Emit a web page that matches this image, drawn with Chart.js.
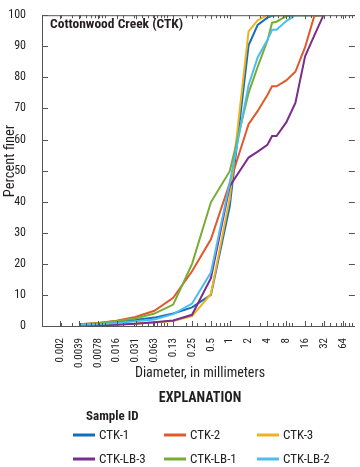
<!DOCTYPE html>
<html>
<head>
<meta charset="utf-8">
<script src="https://cdn.jsdelivr.net/npm/chart.js@4"></script>
<style>
html,body{margin:0;padding:0;background:#fff;}
#wrap{width:360px;height:467px;}
</style>
</head>
<body>
<div id="wrap"><canvas id="c" width="360" height="467"></canvas></div>
<script>
// ---- data ----
const sizes = [0.0039, 0.0078, 0.0156, 0.031, 0.0625, 0.125, 0.25, 0.5, 1, 2, 2.8, 4, 4.75, 5.6, 8, 11.2, 16, 22.4, 31.5];
const ctk1   = [0.5, 0.8, 1.3, 1.9, 2.7, 4.0, 6.0, 10.0, 38.5, 90.3, 96.9, 99.2, 99.8, 100, 100, 100, 100, 100, 100];
const ctk2   = [0.6, 1.0, 1.7, 2.9, 4.9, 9.1, 17.6, 27.9, 46.0, 64.9, 69.2, 74.3, 77.1, 77.1, 79.0, 81.8, 89.7, 99.7, 100];
const ctk3   = [0.2, 0.3, 0.5, 0.8, 1.1, 1.6, 3.2, 10.3, 41.0, 94.8, 98.4, 100, 100, 100, 100, 100, 100, 100, 100];
const ctkLB3 = [0.1, 0.2, 0.4, 0.7, 1.2, 1.8, 3.6, 15.4, 45.0, 54.2, 56.1, 58.3, 61.1, 61.1, 65.5, 71.8, 86.8, 93.4, 100];
const ctkLB1 = [0.6, 0.9, 1.6, 2.4, 4.0, 6.9, 20.0, 39.8, 49.8, 75.0, 83.4, 91.8, 97.6, 97.9, 99.7, 100, 100, 100, 100];
const ctkLB2 = [0.4, 0.6, 1.0, 1.5, 2.1, 3.8, 7.2, 17.2, 46.0, 77.5, 86.5, 92.0, 95.3, 95.3, 98.1, 100, 100, 100, 100];
const seriesNames = ['CTK-1', 'CTK-2', 'CTK-3', 'CTK-LB-3', 'CTK-LB-1', 'CTK-LB-2'];
const tickValues = [0.001953125, 0.00390625, 0.0078125, 0.015625, 0.03125, 0.0625, 0.125, 0.25, 0.5, 1, 2, 4, 8, 16, 32, 64];
const tickLabels = ['0.002', '0.0039', '0.0078', '0.016', '0.031', '0.063', '0.13', '0.25', '0.5', '1', '2', '4', '8', '16', '32', '64'];
const yTicks = [0, 10, 20, 30, 40, 50, 60, 70, 80, 90, 100];

const colors = ['#0f6fba', '#e0592a', '#eeb21f', '#7b2d8e', '#77ad32', '#4dbdee'];
const allSeries = [ctk1, ctk2, ctk3, ctkLB3, ctkLB1, ctkLB2];
const FONT = "'Roboto Condensed', 'Open Sans', sans-serif";
const AXC = '#555555';
const TXT = '#231f20';

const datasets = allSeries.map((arr, i) => ({
  label: seriesNames[i],
  data: sizes.map((s, j) => ({x: s, y: arr[j]})),
  borderColor: colors[i],
  backgroundColor: colors[i],
  borderWidth: 2,
  pointRadius: 0,
  tension: 0,
  fill: false,
  order: allSeries.length - i
}));

const decor = {
  id: 'decor',
  afterDraw(chart) {
    const ctx = chart.ctx;
    const a = chart.chartArea;
    const xs = chart.scales.x, ys = chart.scales.y;
    ctx.save();
    ctx.strokeStyle = AXC;
    ctx.lineWidth = 1;
    ctx.beginPath();
    ctx.moveTo(a.left, a.top + 0.5); ctx.lineTo(a.right, a.top + 0.5);
    ctx.stroke();
    ctx.beginPath();
    for (let n = -3; n <= 1; n++) {
      for (let m = 1; m <= 9; m++) {
        const v = m * Math.pow(10, n);
        if (v < 0.001 || v > 100) continue;
        const px = Math.round(xs.getPixelForValue(v)) + 0.5;
        ctx.moveTo(px, a.bottom); ctx.lineTo(px, a.bottom - 3);
        ctx.moveTo(px, a.top); ctx.lineTo(px, a.top + 3);
      }
    }
    tickValues.forEach(v => {
      const px = Math.round(xs.getPixelForValue(v)) + 0.5;
      ctx.moveTo(px, a.bottom); ctx.lineTo(px, a.bottom - 5);
      ctx.moveTo(px, a.top); ctx.lineTo(px, a.top + 4);
    });
    yTicks.forEach(v => {
      const py = Math.round(ys.getPixelForValue(v)) + 0.5;
      ctx.moveTo(a.left, py); ctx.lineTo(a.left + 6, py);
      ctx.moveTo(a.right, py); ctx.lineTo(a.right - 6, py);
    });
    ctx.stroke();

    ctx.fillStyle = TXT;
    ctx.font = "bold 13.5px " + FONT;
    ctx.textAlign = 'left'; ctx.textBaseline = 'alphabetic';
    ctx.fillText('Cottonwood Creek (CTK)', 50, 28);
    ctx.save();
    ctx.translate(10, 161);
    ctx.rotate(-Math.PI / 2);
    ctx.font = "14.5px " + FONT;
    ctx.textAlign = 'center'; ctx.textBaseline = 'middle';
    ctx.fillText('Percent finer', 0, 0);
    ctx.restore();
    ctx.font = "14px " + FONT;
    ctx.textAlign = 'center'; ctx.textBaseline = 'middle';
    ctx.fillText('Diameter, in millimeters', 200, 373);
    ctx.font = "bold 14px " + FONT;
    ctx.fillText('EXPLANATION', 200, 398);
    ctx.font = "bold 13px " + FONT;
    ctx.textAlign = 'left';
    ctx.fillText('Sample ID', 86, 417);
    const cols = [73, 164, 257];
    const rows = [435, 459];
    ctx.font = "13px " + FONT;
    seriesNames.forEach((name, i) => {
      const cx = cols[i % 3], cy = rows[Math.floor(i / 3)];
      ctx.strokeStyle = colors[i];
      ctx.lineWidth = 3;
      ctx.beginPath(); ctx.moveTo(cx, cy); ctx.lineTo(cx + 22, cy); ctx.stroke();
      ctx.fillStyle = TXT;
      ctx.fillText(name, cx + 26, cy + 0.5);
    });
    ctx.restore();
  }
};

new Chart(document.getElementById('c'), {
  type: 'line',
  data: {datasets},
  options: {
    responsive: false,
    animation: false,
    devicePixelRatio: 1,
    layout: {padding: {top: 7, right: 1, left: 0, bottom: 0}},
    plugins: {legend: {display: false}, tooltip: {enabled: false}},
    scales: {
      x: {
        type: 'logarithmic',
        min: 0.001, max: 100,
        grid: {display: false},
        border: {display: true, color: AXC, width: 1},
        afterBuildTicks: s => { s.ticks = tickValues.map(v => ({value: v})); },
        afterFit: s => { s.height = 141; },
        ticks: {
          autoSkip: false, maxRotation: 90, minRotation: 90, padding: 4,
          color: TXT, font: {family: FONT, size: 11},
          callback: (v, i) => tickLabels[i]
        }
      },
      y: {
        type: 'linear',
        min: 0, max: 100,
        grid: {display: false},
        border: {display: true, color: AXC, width: 1},
        afterBuildTicks: s => { s.ticks = yTicks.map(v => ({value: v})); },
        afterFit: s => { s.width = 42; },
        ticks: {padding: 8, color: TXT, font: {family: FONT, size: 12}}
      }
    }
  },
  plugins: [decor]
});
</script>
</body>
</html>
